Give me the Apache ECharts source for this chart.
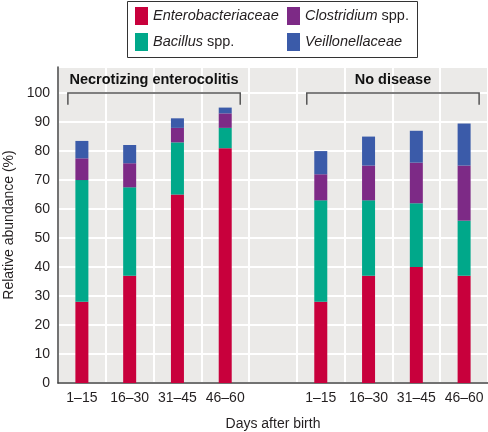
<!DOCTYPE html>
<html>
<head>
<meta charset="utf-8">
<script src="https://cdn.jsdelivr.net/npm/echarts@6/dist/echarts.min.js"></script>
<style>html,body{margin:0;padding:0;background:#fff}#c{width:488px;height:432px}</style>
</head>
<body>
<div id="c"></div>
<script>
const categories = ['1–15','16–30','31–45','46–60','','1–15','16–30','31–45','46–60'];
const groupLabels = ['Necrotizing enterocolitis','No disease'];
const enterobacteriaceae = [28, 37, 65, 81, null, 28, 37, 40, 37];
const bacillus           = [42, 30.5, 18, 7, null, 35, 26, 22, 19];
const clostridium        = [7.5, 8.3, 5, 5, null, 9, 12, 14, 19];
const veillonellaceae    = [6, 6.3, 3.3, 2, null, 8, 10, 11, 14.5];
const yTicks = [0,10,20,30,40,50,60,70,80,90,100];

const colors = ['#C8003C','#00A88A','#7D2A86','#3B5BA9'];
const font = 'Liberation Sans, Arial, Helvetica, sans-serif';
const chart = echarts.init(document.getElementById('c'));

function bar(name, data, color){
  return {name, type:'bar', stack:'s', data, barWidth:13, itemStyle:{color}, emphasis:{disabled:true}};
}
const rich = {i:{fontStyle:'italic', fontSize:14.5, fontFamily:font, color:'#231f20'}, n:{fontSize:14.5, fontFamily:font, color:'#231f20'}};
const legendFmt = {
  'Enterobacteriaceae':'{i|Enterobacteriaceae}',
  'Bacillus spp.':'{i|Bacillus}{n| spp.}',
  'Clostridium spp.':'{i|Clostridium}{n| spp.}',
  'Veillonellaceae':'{i|Veillonellaceae}'
};
const legendBase = {orient:'vertical', top:7, padding:0, itemWidth:13, itemHeight:18, itemGap:8, icon:'rect', selectedMode:false,
  formatter:n=>legendFmt[n], textStyle:{rich, fontFamily:font, fontSize:14.5}};

const boxRect = {type:'rect', shape:{x:127.5,y:1.5,width:290,height:56}, style:{fill:'#fff', stroke:'#333', lineWidth:1}, z:0};

chart.setOption({
  animation:false,
  textStyle:{fontFamily:font},
  graphic:[boxRect],
  legend:[
    Object.assign({left:135, data:['Enterobacteriaceae','Bacillus spp.']}, legendBase),
    Object.assign({left:287, data:['Clostridium spp.','Veillonellaceae']}, legendBase)
  ],
  grid:{left:58, right:0, top:67, bottom:49, outerBoundsMode:'none', containLabel:false, show:true, backgroundColor:'#EBEAE8', borderWidth:0},
  xAxis:{type:'category', data:categories, boundaryGap:true,
    axisLine:{lineStyle:{color:'#444', width:1.5}}, axisTick:{show:false},
    axisLabel:{fontSize:14, color:'#231f20', margin:8, interval:0},
    splitLine:{show:true, interval:0, lineStyle:{color:'#fff', width:2}},
    name:'Days after birth', nameLocation:'middle', nameGap:34, nameTextStyle:{fontSize:14, color:'#231f20'}},
  yAxis:{type:'value', min:0, max:109, interval:10,
    axisLine:{show:true, lineStyle:{color:'#444', width:1.5}}, axisTick:{show:false},
    axisLabel:{fontSize:14, color:'#231f20', margin:8, showMaxLabel:false, formatter:v=>yTicks.includes(v)?String(v):''},
    splitLine:{lineStyle:{color:'#fff', width:2}},
    name:'Relative abundance (%)', nameLocation:'middle', nameGap:42, nameTextStyle:{fontSize:14, color:'#231f20'}},
  series:[
    bar('Enterobacteriaceae', enterobacteriaceae, colors[0]),
    bar('Bacillus spp.', bacillus, colors[1]),
    bar('Clostridium spp.', clostridium, colors[2]),
    bar('Veillonellaceae', veillonellaceae, colors[3])
  ]
});

// Group brackets and labels, positioned through the axes
const groups = [[0,3],[5,8]];
const g = [];
groups.forEach((gr,k)=>{
  const xa = chart.convertToPixel({gridIndex:0},[gr[0],100])[0] - 14;
  const xb = chart.convertToPixel({gridIndex:0},[gr[1],100])[0] + 15;
  const yTop = chart.convertToPixel({gridIndex:0},[0,100])[1];
  const yDrop = chart.convertToPixel({gridIndex:0},[0,96])[1];
  const yText = chart.convertToPixel({gridIndex:0},[0,104.4])[1];
  g.push({type:'polyline', shape:{points:[[xa,yDrop],[xa,yTop],[xb,yTop],[xb,yDrop]]}, style:{stroke:'#555', fill:null, lineWidth:1.5}, z:10});
  g.push({type:'text', x:(xa+xb)/2, y:yText, style:{text:groupLabels[k], fontSize:14.5, fontWeight:'bold', fontFamily:font, fill:'#111', align:'center', verticalAlign:'middle'}, z:10});
});
chart.setOption({graphic:[boxRect].concat(g)});
</script>
</body>
</html>
